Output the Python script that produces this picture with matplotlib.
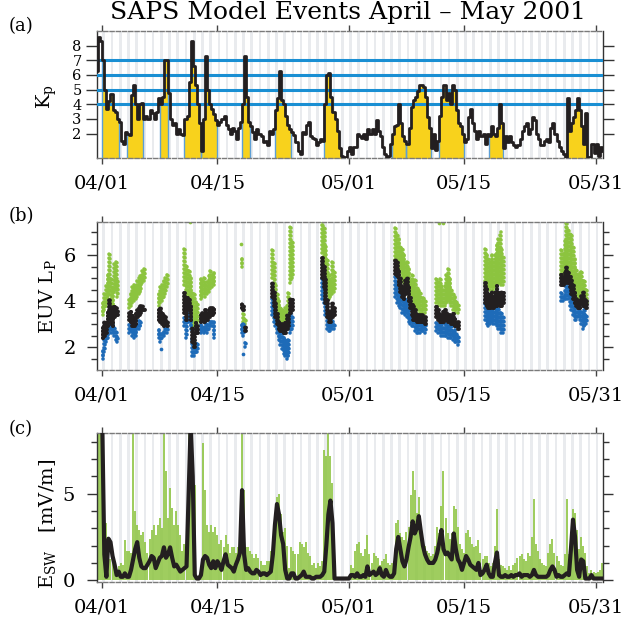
import numpy as np
import matplotlib
matplotlib.use('Agg')
import matplotlib.pyplot as plt

plt.rcParams['font.family'] = ['DejaVu Serif']
plt.rcParams['mathtext.fontset'] = 'dejavuserif'

# time in days since 2001-04-01 00 UT, 6-hourly samples starting at t0
t0 = -0.75
dt = 0.25

# Kp (panel a)
kp = [6.3, 8.6, 8.3,
      7.0, 5.0, 3.7, 4.2,  4.7, 3.6, 3.5, 3.0,  2.8, 1.5, 1.3, 2.1,  2.0, 1.9, 4.6, 5.3,
      4.0, 3.0, 4.0, 4.1,  3.0, 3.2, 3.0, 3.6,  3.4, 3.0, 3.5, 4.4,  4.0, 4.5, 7.0, 7.0,
      4.8, 3.0, 2.6, 2.7,  2.0, 2.3, 2.0, 1.9,  3.0, 3.2, 5.5, 8.3,  6.6, 5.3, 4.0, 2.7,
      0.8, 3.0, 7.3, 5.0,  4.0, 3.7, 3.3, 2.9,  2.6, 2.8, 3.0, 3.2,  2.6, 2.3, 2.0, 2.4,
      2.2, 1.6, 2.4, 2.8,  4.0, 7.3, 4.5, 2.8,  2.5, 2.1, 1.6, 2.3,  2.0, 1.8, 1.4, 1.5,
      1.2, 2.2, 2.0, 2.3,  3.6, 4.4, 6.3, 4.3,  4.0, 3.2, 2.6, 2.3,  2.1, 1.9, 1.4, 0.8,
      0.6, 2.1, 2.0, 2.6,  2.8, 1.8, 1.7, 1.6,  1.2, 1.4, 1.6, 1.5,  4.0, 6.0, 6.1, 4.5,
      3.5, 3.0, 2.2, 1.0,  0.5, 0.4, 0.4, 0.8,  1.1, 0.6, 1.1, 1.1,  2.0, 1.8, 1.7, 2.0,
      1.6, 2.3, 2.0, 2.3,  2.0, 2.9, 2.2, 1.8,  1.1, 0.6, 0.4, 0.5,  1.3, 2.0, 2.5, 2.6,
      4.0, 2.7, 1.8, 1.5,  1.3, 2.4, 3.8, 4.3,  4.5, 4.9, 5.3, 5.3,  5.2, 4.5, 3.1, 2.4,
      1.0, 2.0, 0.9, 1.5,  3.2, 4.5, 5.3, 4.3,  4.8, 4.0, 5.3, 5.0,  3.6, 2.7, 2.5, 2.0,
      1.4, 1.6, 3.1, 3.7,  2.7, 2.2, 1.6, 2.2,  1.8, 2.0, 1.3, 2.0,  1.8, 2.5, 2.0, 1.8,
      2.4, 4.0, 2.7, 1.0,  1.8, 1.4, 1.8, 1.4,  1.2, 1.1, 1.2, 1.6,  2.2, 2.5, 2.7, 2.0,
      2.3, 3.1, 2.9, 2.0,  1.6, 1.2, 1.2, 1.5,  1.6, 1.4, 2.4, 2.7,  2.0, 1.5, 1.1, 0.8,
      0.6, 0.4, 4.4, 2.2,  2.7, 3.1, 3.6, 4.4,  3.6, 2.5, 1.3, 3.4,  0.4, 0.4, 1.3, 0.7,
      1.3, 0.5, 1.1, 0.8]

# SAPS model event windows (days)
event_start = [0.0, 3.0, 7.0, 10.0, 12.0, 17.0, 21.0, 27.0, 35.25, 37.0, 41.0, 47.0, 56.5]
event_end = [2.0, 5.0, 8.0, 12.0, 14.0, 18.0, 23.0, 29.0, 37.0, 40.0, 44.0, 48.75, 59.0]
kp_levels = [4, 5, 6, 7]

# EUV plasmapause (panel b): time, and vertical spread of each point cloud
euv_t = [0.05, 0.25, 0.45, 0.65, 0.85, 1.05, 1.25, 1.45, 1.65, 1.85,
         3.25, 3.45, 3.65, 3.85, 4.05, 4.25, 4.45, 4.65, 4.85, 5.05,
         6.85, 7.05, 7.25, 7.45, 7.65, 7.85,
         9.95, 10.15, 10.35, 10.55, 10.75, 10.95, 11.15, 11.35, 11.55,
         11.95, 12.15, 12.35, 12.55, 12.75, 12.95, 13.15, 13.35, 13.55,
         16.95, 17.15, 17.35,
         20.65, 20.85, 21.05, 21.25, 21.45, 21.65, 21.85, 22.05, 22.25, 22.45, 22.65, 22.85, 23.05,
         26.75, 26.95, 27.15, 27.35, 27.55, 27.75, 27.95, 28.15,
         35.65, 35.85, 36.05, 36.25, 36.45, 36.65, 36.85, 37.05, 37.25, 37.45,
         37.65, 37.85, 38.05, 38.25, 38.45, 38.65, 38.85, 39.05, 39.25,
         40.65, 40.85, 41.05, 41.25, 41.45, 41.65, 41.85, 42.05, 42.25, 42.45, 42.65, 42.85, 43.05, 43.25,
         46.55, 46.75, 46.95, 47.15, 47.35, 47.55, 47.75, 47.95, 48.15, 48.35, 48.55, 48.75,
         55.85, 56.05, 56.25, 56.45, 56.65, 56.85, 57.05, 57.25, 57.45, 57.65, 57.85, 58.05, 58.25, 58.45, 58.65, 58.85]
green_lo = [3.4, 3.6, 3.8, 4.1, 4.3, 3.9, 3.7, 4.4, 4.5, 4.2,
            3.7, 3.8, 3.9, 4.0, 4.1, 4.2, 4.3, 4.4, 4.8, 4.9,
            3.8, 3.9, 4.0, 4.2, 4.3, 4.6,
            4.7, 4.5, 4.3, 4.1, 3.6, 2.8, 2.9, 2.9, 3.0,
            4.1, 4.2, 4.3, 4.2, 4.3, 4.4, 4.6, 4.6, 4.7,
            5.5, 3.1, 3.0,
            5.0, 4.6, 4.0, 3.6, 3.3, 3.2, 3.1, 3.2, 3.2, 3.1, 3.3, 4.8, 5.0,
            6.1, 5.8, 5.0, 4.4, 4.1, 4.2, 4.3, 4.4,
            5.8, 5.5, 5.5, 5.3, 4.9, 4.8, 4.8, 4.5, 4.2, 4.0,
            3.9, 3.8, 3.7, 3.7, 3.6, 3.5, 3.5, 3.6, 3.5,
            3.9, 3.8, 3.9, 3.8, 3.8, 3.8, 3.9, 4.0, 3.9, 3.8, 3.6, 3.5, 3.6, 3.5,
            4.7, 4.8, 4.6, 4.5, 4.6, 4.5, 4.6, 4.7, 4.8, 4.8, 4.7, 4.7,
            5.0, 5.2, 5.4, 5.5, 5.2, 5.0, 4.8, 4.8, 4.6, 4.3, 4.1, 4.2, 4.4, 4.2, 4.0, 3.8]
green_hi = [3.9, 4.4, 4.7, 5.2, 6.1, 5.0, 4.6, 5.6, 5.7, 5.0,
            4.2, 4.4, 4.6, 4.8, 4.7, 4.9, 5.0, 5.2, 5.3, 5.4,
            4.3, 4.6, 4.8, 4.9, 5.0, 5.2,
            6.3, 5.6, 5.5, 5.3, 5.0, 4.4, 4.3, 4.1, 4.0,
            5.1, 4.9, 5.0, 4.8, 4.9, 5.2, 5.3, 5.2, 5.3,
            5.9, 3.5, 3.3,
            6.3, 5.8, 4.8, 4.4, 4.0, 3.7, 3.6, 3.6, 3.7, 3.9, 4.5, 7.3, 6.6,
            7.5, 7.3, 6.4, 5.8, 5.2, 5.0, 5.7, 5.4,
            7.3, 7.0, 6.8, 6.5, 6.3, 6.1, 5.8, 5.8, 5.4, 5.0,
            5.2, 4.9, 5.0, 4.7, 4.5, 4.4, 4.1, 4.2, 4.0,
            5.0, 4.9, 5.0, 4.8, 4.6, 4.7, 5.2, 5.4, 5.0, 4.6, 4.3, 4.2, 4.1, 3.9,
            6.3, 6.1, 5.9, 5.8, 6.0, 5.7, 6.1, 6.5, 6.8, 7.0, 6.4, 6.0,
            6.3, 6.1, 6.7, 7.5, 7.2, 7.0, 6.9, 6.5, 5.9, 5.4, 5.2, 5.3, 5.4, 5.0, 4.9, 4.6]
black_lo = [2.4, 2.5, 2.6, 2.9, 3.3, 3.0, 2.9, 3.3, 3.4, 3.4,
            3.2, 3.1, 2.9, 2.9, 3.0, 3.3, 3.4, 3.5, 3.6, 3.6,
            3.2, 3.1, 3.0, 2.9, 3.0, 2.9,
            3.5, 3.2, 3.7, 3.6, 3.2, 2.2, 2.0, 2.6, 2.6,
            3.1, 3.2, 3.1, 3.2, 3.2, 3.3, 3.4, 3.4, 3.5,
            3.7, 3.6, 2.7,
            4.2, 3.8, 3.3, 3.0, 2.8, 2.7, 2.7, 2.6, 2.6, 2.8, 2.9, 3.5, 3.6,
            5.0, 4.6, 3.9, 3.3, 3.1, 3.1, 3.3, 3.4,
            5.2, 5.1, 4.7, 4.4, 4.2, 4.1, 4.3, 4.4, 4.0, 3.7,
            3.4, 3.2, 3.2, 3.1, 3.1, 3.1, 3.1, 3.1, 3.0,
            3.3, 3.2, 3.1, 3.1, 3.1, 3.2, 3.2, 3.1, 3.1, 3.0, 3.0, 2.9, 2.9, 2.8,
            3.9, 3.8, 3.7, 3.7, 3.8, 3.7, 3.8, 3.8, 3.9, 3.8, 3.8, 3.9,
            4.7, 4.7, 4.8, 4.9, 4.8, 4.6, 4.3, 4.1, 3.9, 3.8, 3.7, 3.7, 3.9, 3.8, 3.8, 3.7]
black_hi = [2.9, 3.1, 3.2, 3.6, 4.1, 3.8, 3.6, 3.8, 3.7, 3.6,
            3.5, 3.6, 3.4, 3.3, 3.5, 3.6, 3.7, 3.8, 3.8, 3.7,
            3.6, 3.7, 3.5, 3.4, 3.3, 3.2,
            4.4, 4.2, 4.2, 4.1, 3.8, 2.9, 2.6, 3.1, 3.0,
            3.5, 3.5, 3.4, 3.6, 3.5, 3.6, 3.7, 3.8, 3.7,
            3.9, 3.8, 2.9,
            4.9, 4.5, 3.9, 3.5, 3.2, 3.1, 3.1, 3.0, 3.1, 3.4, 3.5, 4.2, 4.1,
            5.9, 5.6, 5.0, 4.1, 3.6, 3.5, 3.9, 3.8,
            5.9, 5.7, 5.4, 5.0, 4.7, 4.6, 5.0, 5.0, 4.6, 4.2,
            3.9, 3.8, 3.6, 3.5, 3.4, 3.4, 3.4, 3.3, 3.3,
            3.8, 3.6, 3.5, 3.4, 3.6, 3.6, 3.5, 3.5, 3.4, 3.4, 3.5, 3.3, 3.2, 3.1,
            4.9, 4.6, 4.4, 4.3, 4.5, 4.2, 4.4, 4.7, 4.5, 4.3, 4.4, 4.4,
            5.2, 5.1, 5.3, 5.5, 5.3, 5.1, 5.0, 4.8, 4.4, 4.2, 4.1, 4.0, 4.3, 4.4, 4.2, 4.1]
blue_lo = [1.5, 1.8, 2.2, 2.4, 2.7, 2.6, 2.6, 2.5, 2.3, 2.2,
           2.6, 2.7, 2.5, 2.4, 2.5, 2.8, 2.8, 2.9, np.nan, np.nan,
           2.4, 2.2, 2.4, 2.5, 2.6, 2.6,
           2.9, 2.4, 3.1, 3.1, 2.8, 1.6, 1.6, 1.8, 1.8,
           2.6, 2.7, 2.6, 2.7, 2.6, 2.8, 2.9, 2.9, 2.4,
           2.6, 2.5, 2.0,
           3.4, 3.1, 2.9, 2.6, 2.3, 2.1, 1.9, 1.7, 1.6, 1.5, 1.6, 2.6, 2.8,
           4.1, 3.9, 3.4, 2.8, 2.7, 2.7, 2.8, 2.8,
           4.2, 3.9, 3.8, 3.7, 3.5, 3.5, 3.4, 3.3, 3.1, 3.0,
           2.9, 2.9, 2.7, 2.6, 2.6, 2.6, 2.7, 2.7, 2.6,
           2.7, 2.6, 2.6, 2.5, 2.5, 2.5, 2.5, 2.4, 2.4, 2.4, 2.3, 2.2, 2.2, 2.1,
           3.2, 3.0, 2.9, 3.0, 3.1, 3.0, 3.0, 2.9, 2.8, 2.8, 2.6, 2.6,
           4.0, 4.0, 4.1, 4.1, 4.1, 3.8, 3.6, 3.4, 3.2, 3.2, 3.3, 3.2, 3.0, 2.8, 2.9, 3.0]
blue_hi = [1.9, 2.5, 2.6, 3.0, 3.5, 3.2, 3.0, 2.9, 2.8, 2.5,
           3.1, 3.0, 2.9, 2.8, 2.9, 3.1, 3.2, 3.2, np.nan, np.nan,
           2.8, 2.7, 2.7, 2.8, 2.9, 2.8,
           3.4, 3.2, 3.9, 3.7, 3.4, 2.4, 2.2, 2.2, 2.2,
           3.1, 3.0, 2.9, 3.2, 3.0, 3.1, 3.2, 3.2, 3.1,
           3.1, 3.0, 2.2,
           4.1, 3.8, 3.4, 3.1, 2.9, 2.7, 2.6, 2.5, 2.3, 2.2, 2.4, 3.5, 3.4,
           5.0, 4.8, 4.2, 3.3, 3.2, 3.1, 3.2, 3.1,
           5.1, 4.8, 4.5, 4.4, 4.2, 4.0, 4.1, 4.0, 3.7, 3.5,
           3.4, 3.3, 3.1, 3.0, 3.1, 3.0, 3.1, 3.0, 3.0,
           3.2, 3.1, 3.0, 3.0, 2.9, 3.0, 3.0, 2.9, 2.9, 3.0, 2.8, 2.8, 2.7, 2.5,
           4.2, 3.9, 3.8, 3.7, 3.8, 3.6, 3.7, 3.9, 3.7, 3.6, 3.5, 3.4,
           4.4, 4.3, 4.5, 4.8, 4.7, 4.5, 4.2, 4.1, 3.8, 3.6, 3.7, 3.6, 3.6, 3.5, 3.8, 3.5]
green_out_t = [10.65, 16.9, 40.9, 41.5]
green_out_v = [7.45, 6.5, 7.4, 7.4]
blue_out_t = [7.1, 17.1]
blue_out_v = [1.9, 1.7]

# Esw (panel c): high-resolution envelope (green) and smoothed (black), mV/m
esw_raw = [1.0, 12, 12,
           12, 5.0, 3.3, 2.5,  1.2, 1.5, 0.8, 0.6,  0.8, 1.0, 0.9, 2.3,  1.7, 1.7, 1.6, 8.6,
           4.0, 3.2, 2.9, 2.6,  2.8, 2.2, 1.6, 2.4,  2.9, 3.2, 2.6, 3.2,  3.6, 3.0, 8.6, 6.3,
           3.6, 5.3, 4.2, 3.2,  4.0, 3.2, 2.6, 1.7,  2.1, 2.3, 8.6, 8.6,  6.7, 5.5, 0.1, 0.1,
           0.2, 7.9, 5.2, 3.2,  2.8, 3.2, 2.8, 3.1,  2.6, 2.1, 2.3, 1.9,  2.6, 2.1, 1.6, 1.9,
           1.9, 1.6, 1.9, 1.7,  8.6, 5.2, 1.9, 1.9,  1.7, 1.5, 1.3, 1.5,  1.3, 1.1, 0.9, 0.9,
           1.1, 1.1, 1.7, 2.0,  2.6, 4.8, 5.0, 3.8,  2.8, 3.0, 2.0, 0.7,  1.9, 1.7, 1.5, 1.5,
           2.2, 2.1, 1.9, 2.2,  1.6, 1.4, 0.9, 1.0,  0.7, 1.0, 0.8, 1.1,  7.5, 7.2, 8.6, 7.2,
           5.6, 0.4, 0.1, 0.1,  0.1, 0.1, 0.1, 0.1,  0.1, 0.9, 0.7, 1.7,  2.1, 2.2, 1.6, 1.4,
           1.8, 2.6, 1.5, 1.0,  1.6, 1.4, 1.3, 0.9,  1.1, 1.2, 1.5, 1.0,  0.9, 1.0, 1.1, 3.3,
           3.5, 2.7, 2.5, 2.3,  2.8, 3.1, 4.9, 6.3,  5.2, 3.9, 4.8, 3.0,  2.4, 2.0, 1.7, 1.6,
           1.4, 1.5, 2.0, 3.1,  2.7, 4.3, 6.3, 3.6,  2.7, 2.4, 2.7, 4.3,  4.1, 3.1, 2.1, 1.8,
           1.6, 2.7, 2.9, 2.5,  2.1, 1.9, 2.0, 2.3,  1.6, 1.2, 1.4, 1.4,  1.0, 0.8, 1.0, 2.0,
           4.1, 1.2, 0.9, 0.8,  0.7, 0.6, 0.8, 0.6,  0.9, 1.0, 1.3, 1.4,  1.5, 1.2, 1.1, 1.6,
           1.4, 2.5, 4.7, 2.1,  1.7, 1.2, 1.0, 0.9,  0.8, 1.6, 2.1, 2.4,  1.6, 1.4, 1.1, 0.9,
           0.8, 1.5, 4.7, 1.5,  2.7, 4.1, 3.9, 2.9,  1.8, 2.5, 2.0, 1.6,  0.8, 0.4, 0.6, 0.5,
           0.4, 0.5, 0.6, 1.0]
esw_smooth = [12, 12, 12,
              9.0, 1.5, 0.2, 2.4,  2.2, 1.4, 0.9, 0.3,  0.5, 0.2, 0.2, 0.4,  0.2, 0.2, 0.6, 1.2,
              1.8, 2.2, 1.3, 0.8,  0.7, 0.7, 0.9, 1.1,  1.4, 1.3, 0.7, 1.0,  1.3, 1.4, 1.9, 1.3,
              1.5, 1.9, 1.3, 0.8,  0.9, 0.7, 0.5, 0.6,  0.7, 0.8, 5.0, 9.0,  6.0, 0.3, 0.1, 0.1,
              0.3, 1.2, 1.4, 1.3,  0.9, 0.7, 1.1, 0.7,  1.1, 0.9, 0.6, 1.1,  1.5, 0.9, 0.8, 0.7,
              0.5, 0.9, 1.2, 1.6,  5.2, 1.5, 0.6, 0.7,  0.5, 0.4, 0.4, 0.6,  0.5, 0.3, 0.4, 0.4,
              0.3, 0.4, 0.5, 1.5,  3.2, 4.4, 3.8, 2.6,  2.1, 0.6, 0.1, 0.1,  0.4, 0.4, 0.1, 0.1,
              0.2, 0.3, 0.5, 0.2,  0.2, 0.2, 0.1, 0.1,  0.2, 0.2, 0.2, 0.3,  0.5, 2.0, 3.8, 4.6,
              3.3, 0.1, 0.1, 0.1,  0.1, 0.1, 0.1, 0.1,  0.1, 0.3, 0.3, 0.2,  0.4, 0.2, 0.2, 0.3,
              0.2, 0.8, 0.3, 0.4,  0.5, 0.3, 0.4, 0.7,  0.3, 0.2, 0.6, 0.3,  0.2, 0.2, 0.4, 1.8,
              2.5, 1.8, 1.1, 0.8,  1.2, 1.9, 2.5, 3.4,  2.7, 3.0, 3.7, 2.8,  2.0, 1.5, 1.2, 1.0,
              1.0, 1.0, 1.2, 1.6,  2.2, 2.9, 1.8, 1.5,  1.6, 1.4, 1.2, 2.7,  1.8, 1.2, 1.0, 0.6,
              1.0, 1.4, 1.2, 0.9,  0.8, 0.7, 0.6, 1.0,  0.3, 0.4, 0.6, 0.9,  0.4, 0.2, 0.2, 1.0,
              1.6, 0.3, 0.2, 0.2,  0.3, 0.2, 0.2, 0.3,  0.2, 0.3, 0.3, 0.4,  0.2, 0.3, 0.3, 0.3,
              0.2, 0.3, 0.6, 0.3,  0.2, 0.2, 0.2, 0.2,  0.2, 0.3, 0.6, 0.8,  0.6, 0.2, 0.3, 0.2,
              0.2, 0.3, 0.4, 0.3,  1.8, 3.5, 2.5, 0.6,  0.2, 1.2, 1.1, 0.1,  0.1, 0.1, 0.3, 0.1,
              0.1, 0.1, 0.1, 0.1]

tick_days = [0, 14, 30, 44, 60]
tick_labels = ['04/01', '04/15', '05/01', '05/15', '05/31']

# colours
YELLOW = '#f8d21c'
HBLUE = '#1a8fd3'
EDGE = '#5d9fd6'
GREEN = '#8cc43f'
DBLUE = '#1e6bb8'
BLACK = '#231f20'
STRIPE = '#e9ebee'

t = t0 + dt * np.arange(len(kp))
kp = np.array(kp)

W, H = 626, 623
fig = plt.figure(figsize=(W / 100, H / 100), dpi=100)


def box(l, top, r, b):
    return [l / W, 1 - b / H, (r - l) / W, (b - top) / H]


def style(ax, ylen):
    for d in range(-1, 62):
        ax.axvspan(d + 0.02, d + 0.34, color=STRIPE, lw=0, zorder=0)
    ax.set_xlim(-0.64, 60.9)
    ax.set_xticks(tick_days)
    ax.set_xticklabels(tick_labels, fontsize=14)
    for s in ['left', 'right']:
        ax.spines[s].set_color('#333333')
        ax.spines[s].set_linewidth(1.0)
    for s in ['top', 'bottom']:
        ax.spines[s].set_color('#7a7a7a')
        ax.spines[s].set_linewidth(1.0)
        ax.spines[s].set_linestyle((0, (3, 1.5)))
    ax.tick_params(axis='x', which='both', direction='out', top=True, bottom=True,
                   length=4, width=1, pad=8, color='#444444')
    ax.tick_params(axis='y', which='major', direction='out', left=True, right=True,
                   length=ylen, width=1, labelsize=14, color='#333333')
    ax.tick_params(axis='y', which='minor', direction='out', left=True, right=True,
                   length=4, width=1, color='#333333')


# ---- panel (a): Kp
ax = fig.add_axes(box(97, 31, 603, 158))
style(ax, 8)
for s, e in zip(event_start, event_end):
    m = (t >= s - 1e-9) & (t < e - 1e-9)
    ts = np.append(t[m], e)
    ks = np.append(kp[m], kp[m][-1])
    ax.fill_between(ts, 0, ks, step='post', color=YELLOW, lw=0, zorder=1)
    i0 = int(round((s - t0) / dt))
    i1 = int(round((e - t0) / dt)) - 1
    ax.vlines([s, e], 0, [kp[i0], kp[i1]], color=EDGE, lw=1.0, zorder=2)
for lev in kp_levels:
    ax.axhline(lev, color=HBLUE, lw=2.2, zorder=3)
ax.step(t, kp, where='post', color=BLACK, lw=2.0, zorder=4)
ax.set_ylim(0.33, 9.0)
ax.set_yticks([2, 3, 4, 5, 6, 7, 8])
ax.tick_params(axis='y', pad=3, labelsize=10.5)

# ---- panel (b): EUV Lpp
ax = fig.add_axes(box(97, 222, 603, 370))
style(ax, 7)
et = np.array(euv_t)
ax.vlines(et, green_lo, green_hi, color=GREEN, lw=2.6, linestyles=[(0, (0.05, 1.05))],
          capstyle='round', zorder=2)
ax.vlines(et + 0.1, green_lo, green_hi, color=GREEN, lw=2.6, linestyles=[(1.3, (0.05, 1.05))],
          capstyle='round', zorder=2)
ax.scatter(green_out_t, green_out_v, s=7, color=GREEN, lw=0, zorder=2)
bm = ~np.isnan(np.array(blue_lo))
for off, phase in [(0.0, 0), (0.1, 1.3)]:
    ax.vlines(et[bm] + off, np.array(blue_lo)[bm], np.array(blue_hi)[bm], color=DBLUE, lw=2.6,
              linestyles=[(phase, (0.05, 1.05))], capstyle='round', zorder=3)
ax.scatter(blue_out_t, blue_out_v, s=7, color=DBLUE, lw=0, zorder=3)
for off in [0.0, 0.1]:
    ax.vlines(et + off, black_lo, black_hi, color=BLACK, lw=2.8, linestyles=[(0, (0.05, 0.8))],
              capstyle='round', zorder=4)
ax.set_ylim(1.0, 7.45)
ax.set_yticks([2, 4, 6])
ax.set_yticks(np.arange(1.5, 7.5, 0.5), minor=True)
ax.tick_params(axis='y', pad=8)

# ---- panel (c): Esw
ax = fig.add_axes(box(97, 433, 603, 582))
style(ax, 7)
ax.vlines(t, 0, esw_raw, color=GREEN, lw=1.2, zorder=2)
ax.plot(t, esw_smooth, color=BLACK, lw=3.0, zorder=4)
ax.set_ylim(-0.1, 8.5)
ax.set_yticks([0, 5])
ax.set_yticks([1, 2, 3, 4, 6, 7, 8], minor=True)
ax.tick_params(axis='y', pad=9)

# ---- text
fig.text(348 / W, 1 - 19.5 / H, 'SAPS Model Events April \u2013 May 2001', ha='center',
         va='baseline', fontsize=18)
for lab, y in [('(a)', 26), ('(b)', 216), ('(c)', 429)]:
    fig.text(21 / W, 1 - y / H, lab, ha='center', va='center', fontsize=13)
fig.text(47 / W, 1 - 97 / H, r'K$_\mathrm{p}$', rotation=90, ha='center', va='center', fontsize=14)
fig.text(47 / W, 1 - 297 / H, r'EUV L$_\mathrm{P}$', rotation=90, ha='center', va='center', fontsize=14)
fig.text(47 / W, 1 - 524 / H, r'E$_\mathrm{SW}$   [mV/m]', rotation=90, ha='center', va='center',
         fontsize=14)

fig.savefig('out.png', dpi=100)
